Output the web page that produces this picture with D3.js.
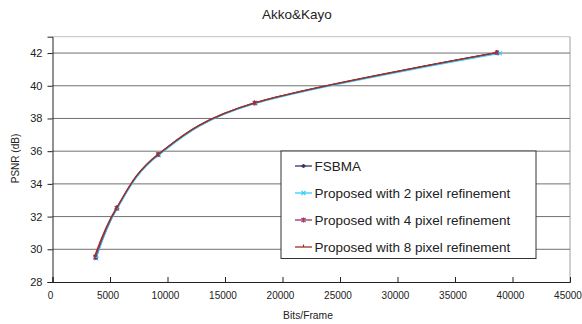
<!DOCTYPE html>
<html><head><meta charset="utf-8">
<script src="https://cdn.jsdelivr.net/npm/d3@7"></script>
<style>body{margin:0;background:#fff}svg{display:block;font-family:"Liberation Sans",Arial,sans-serif}</style>
</head><body>
<svg id="c" width="582" height="324"></svg>
<script>
const title = "Akko&Kayo";
const xTitle = "Bits/Frame";
const yTitle = "PSNR (dB)";
const xTicks = [0,5000,10000,15000,20000,25000,30000,35000,40000,45000];
const yTicks = [28,30,32,34,36,38,40,42];
const seriesNames = ["FSBMA","Proposed with 2 pixel refinement","Proposed with 4 pixel refinement","Proposed with 8 pixel refinement"];
const fsbmaBits = [3780,5600,9200,17600,38700];
const fsbmaPsnr = [29.48,32.50,35.78,38.94,42.02];
const p2Bits = [3800,5620,9220,17650,38900];
const p2Psnr = [29.45,32.48,35.75,38.92,41.98];
const p4Bits = [3720,5580,9180,17580,38650];
const p4Psnr = [29.50,32.52,35.80,38.95,42.02];
const p8Bits = [3640,5560,9170,17560,38620];
const p8Psnr = [29.53,32.53,35.80,38.95,42.03];
const seriesColors = ["#333366","#33CCFF","#993366","#993322"];
const seriesMarkers = ["diamond","x","star","plus"];

const bits = [fsbmaBits,p2Bits,p4Bits,p8Bits];
const psnr = [fsbmaPsnr,p2Psnr,p4Psnr,p8Psnr];
const series = seriesNames.map((n,i)=>({name:n,color:seriesColors[i],marker:seriesMarkers[i],
  pts:bits[i].map((b,j)=>[b,psnr[i][j]])}));

const svg = d3.select("#c");
const L=52.5,R=570,T=36.7,B=282;
const x = d3.scaleLinear().domain([0,45000]).range([L,R]);
const y = d3.scaleLinear().domain([28,43]).range([B,T]);

// plot border (top/right)
svg.append("line").attr("x1",L).attr("x2",R).attr("y1",T).attr("y2",T).attr("stroke","#c0c0c0").attr("stroke-width",1);
svg.append("line").attr("x1",R).attr("x2",R).attr("y1",T).attr("y2",B).attr("stroke","#a0a0a0").attr("stroke-width",1);

// gridlines
svg.append("g").selectAll("line").data(yTicks.filter(v=>v>28)).join("line")
  .attr("x1",L).attr("x2",R).attr("y1",d=>y(d)).attr("y2",d=>y(d))
  .attr("stroke","#707070").attr("stroke-width",1);

// axes
const yAxis = svg.append("g").attr("transform",`translate(${L},0)`)
  .call(d3.axisLeft(y).tickValues(yTicks).tickSize(5).tickPadding(5).tickFormat(d3.format("d")));
const xAxis = svg.append("g").attr("transform",`translate(0,${B})`)
  .call(d3.axisBottom(x).tickValues(xTicks).tickSize(-5).tickPadding(10).tickFormat(d3.format("d")));
[yAxis,xAxis].forEach(g=>{
  g.select(".domain").attr("stroke","#222");
  g.selectAll(".tick line").attr("stroke","#222");
  g.selectAll("text").attr("fill","#222").style("font-family","'Liberation Sans',Arial,sans-serif");
});
yAxis.selectAll("text").attr("font-size",11);
xAxis.selectAll("text").attr("font-size",10).attr("dx",-2.5);

// lines
const line = d3.line().x(d=>x(d[0])).y(d=>y(d[1])).curve(d3.curveCatmullRom.alpha(0));
function drawMarker(g,type,cx,cy,color){
  if(type==="diamond"){
    g.append("path").attr("d",`M${cx},${cy-2}L${cx+2},${cy}L${cx},${cy+2}L${cx-2},${cy}Z`).attr("fill",color).attr("stroke",color).attr("stroke-width",0.8);
  } else if(type==="x"){
    g.append("path").attr("d",`M${cx-2},${cy-2}L${cx+2},${cy+2}M${cx-2},${cy+2}L${cx+2},${cy-2}`).attr("stroke",color).attr("stroke-width",1.1);
  } else if(type==="star"){
    g.append("path").attr("d",`M${cx-2},${cy-2}L${cx+2},${cy+2}M${cx-2},${cy+2}L${cx+2},${cy-2}M${cx},${cy-2.5}L${cx},${cy+2.5}`).attr("stroke",color).attr("stroke-width",1.1);
  } else {
    g.append("path").attr("d",`M${cx},${cy-2.5}L${cx},${cy}`).attr("stroke",color).attr("stroke-width",1.2);
  }
}
series.forEach(s=>{
  const g = svg.append("g");
  g.append("path").attr("d",line(s.pts)).attr("fill","none").attr("stroke",s.color).attr("stroke-width",1.3);
  s.pts.forEach(p=>drawMarker(g,s.marker,x(p[0]),y(p[1]),s.color));
});

// legend
const lg = svg.append("g");
lg.append("rect").attr("x",281).attr("y",151).attr("width",255).attr("height",107.5).attr("fill","#fff").attr("stroke","#333").attr("stroke-width",1);
series.forEach((s,i)=>{
  const cy = 166 + i*27;
  lg.append("line").attr("x1",295).attr("x2",312).attr("y1",cy).attr("y2",cy).attr("stroke",s.color).attr("stroke-width",1.3);
  drawMarker(lg,s.marker,303.5,cy,s.color);
  lg.append("text").attr("x",314.5).attr("y",cy+4.8).attr("font-size",13.5).attr("fill","#222").text(s.name);
});

// titles
svg.append("text").attr("x",297).attr("y",19).attr("text-anchor","middle").attr("font-size",13.5).attr("fill","#222").text(title);
svg.append("text").attr("x",308).attr("y",319).attr("text-anchor","middle").attr("font-size",10.3).attr("fill","#222").text(xTitle);
svg.append("text").attr("transform","translate(19,158.5) rotate(-90)").attr("text-anchor","middle").attr("font-size",10).attr("fill","#222").text(yTitle);
</script>
</body></html>
